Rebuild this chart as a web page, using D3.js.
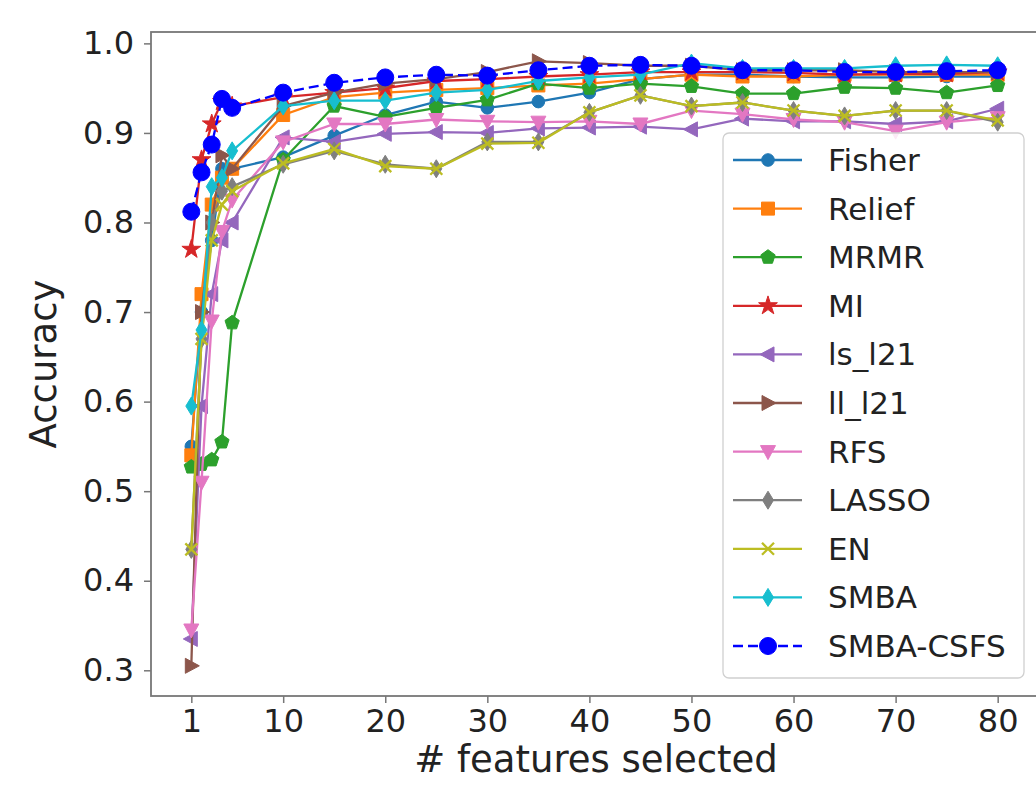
<!DOCTYPE html>
<html><head><meta charset="utf-8">
<script src="https://cdn.jsdelivr.net/npm/d3@7"></script>
<style>body{margin:0;background:#fff}svg{display:block}text{font-family:"DejaVu Sans",sans-serif;fill:#222}</style>
</head><body><svg id="c" width="1036" height="793"></svg>
<script>
const xs = [1,2,3,4,5,10,15,20,25,30,35,40,45,50,55,60,65,70,75,80];
const fisher = [0.55,0.70,0.78,0.86,0.86,0.873,0.897,0.92,0.935,0.928,0.935,0.945,0.96,0.965,0.965,0.963,0.962,0.962,0.963,0.963];
const relief = [0.54,0.72,0.82,0.85,0.86,0.92,0.94,0.945,0.948,0.95,0.953,0.955,0.96,0.965,0.963,0.963,0.965,0.965,0.965,0.965];
const mrmr = [0.527,0.53,0.535,0.555,0.688,0.87,0.93,0.918,0.928,0.937,0.955,0.95,0.955,0.952,0.944,0.944,0.951,0.95,0.945,0.953];
const mi = [0.77,0.87,0.91,0.935,0.93,0.94,0.945,0.95,0.958,0.96,0.963,0.965,0.968,0.968,0.968,0.967,0.965,0.966,0.966,0.968];
const lsl21 = [0.335,0.595,0.72,0.78,0.80,0.895,0.89,0.899,0.901,0.90,0.905,0.906,0.907,0.904,0.916,0.913,0.913,0.91,0.913,0.927];
const lll21 = [0.305,0.70,0.80,0.875,0.86,0.93,0.945,0.955,0.96,0.968,0.98,0.978,0.975,0.975,0.97,0.97,0.97,0.968,0.968,0.968];
const rfs = [0.345,0.51,0.69,0.79,0.825,0.89,0.91,0.91,0.915,0.913,0.912,0.913,0.91,0.925,0.921,0.915,0.912,0.902,0.912,0.917];
const lasso = [0.435,0.67,0.80,0.835,0.84,0.865,0.88,0.865,0.86,0.89,0.89,0.923,0.942,0.93,0.934,0.925,0.919,0.925,0.925,0.912];
const en = [0.435,0.67,0.78,0.82,0.835,0.866,0.882,0.863,0.86,0.888,0.889,0.923,0.942,0.93,0.934,0.925,0.919,0.925,0.925,0.914];
const smba = [0.595,0.68,0.84,0.85,0.88,0.93,0.936,0.936,0.945,0.948,0.958,0.962,0.965,0.978,0.972,0.972,0.972,0.975,0.976,0.975];
const csfs = [0.812,0.856,0.887,0.938,0.928,0.945,0.956,0.962,0.965,0.964,0.970,0.975,0.976,0.975,0.970,0.970,0.968,0.968,0.969,0.970];

const seriesNames = ["Fisher","Relief","MRMR","MI","ls_l21","ll_l21","RFS","LASSO","EN","SMBA","SMBA-CSFS"];
const seriesValues = [fisher,relief,mrmr,mi,lsl21,lll21,rfs,lasso,en,smba,csfs];
const colors = ["#1f77b4","#ff7f0e","#2ca02c","#d62728","#9467bd","#8c564b","#e377c2","#7f7f7f","#bcbd22","#17becf","#0000ff"];
const markers = ["circle","square","pentagon","star","left","right","down","thindiamond","x","thindiamond","bigcircle"];
const xTicks = [1,10,20,30,40,50,60,70,80];
const yTicks = [0.3,0.4,0.5,0.6,0.7,0.8,0.9,1.0];

const svg = d3.select("#c");
const L=151,T=32,R=1038,B=696;
const x = d3.scaleLinear().domain([-2.95,83.95]).range([L,R]);
const y = d3.scaleLinear().domain([0.2713,1.0127]).range([B,T]);

function markerPath(type){
  const s = 6.5;
  switch(type){
    case "circle": return d3.symbol(d3.symbolCircle, Math.PI*6.3*6.3)();
    case "bigcircle": return d3.symbol(d3.symbolCircle, Math.PI*8.5*8.5)();
    case "square": return `M${-s},${-s}H${s}V${s}H${-s}Z`;
    case "pentagon": { const r=7.5; let p=[]; for(let i=0;i<5;i++){const a=-Math.PI/2+i*2*Math.PI/5; p.push([r*Math.cos(a),r*Math.sin(a)]);} return "M"+p.map(d=>d.join(",")).join("L")+"Z"; }
    case "star": return d3.symbol(d3.symbolStar, 110)();
    case "left": return `M${-8},0L${6},${-7.5}L${6},${7.5}Z`;
    case "right": return `M${8},0L${-6},${-7.5}L${-6},${7.5}Z`;
    case "down": return `M0,${8}L${-7.5},${-6}L${7.5},${-6}Z`;
    case "thindiamond": return `M0,${-9}L${5.5},0L0,${9}L${-5.5},0Z`;
    case "x": return `M-6,-6L6,6M-6,6L6,-6`;
  }
}

svg.append("defs").append("clipPath").attr("id","clip").append("rect").attr("x",L).attr("y",T).attr("width",R-L).attr("height",B-T);

const xAxis = d3.axisBottom(x).tickValues(xTicks).tickSize(7).tickPadding(6).tickFormat(d3.format("d"));
const yAxis = d3.axisLeft(y).tickValues(yTicks).tickSize(7).tickPadding(10).tickFormat(d3.format(".1f"));
const gx = svg.append("g").attr("transform",`translate(0,${B})`).call(xAxis);
const gy = svg.append("g").attr("transform",`translate(${L},0)`).call(yAxis);
[gx,gy].forEach(g=>{
  g.select(".domain").remove();
  g.selectAll(".tick line").attr("stroke","#777").attr("stroke-width",1.5);
  g.selectAll(".tick text").attr("font-size",32).attr("fill","#222").style("font-family","DejaVu Sans");
});
svg.append("rect").attr("x",L).attr("y",T).attr("width",R-L).attr("height",B-T).attr("fill","none").attr("stroke","#777").attr("stroke-width",1.8);

const plot = svg.append("g").attr("clip-path","url(#clip)");
const line = d3.line().x((d,i)=>x(xs[i])).y(d=>y(d));
seriesValues.forEach((vals,k)=>{
  const g = plot.append("g");
  g.append("path").attr("d",line(vals)).attr("fill","none").attr("stroke",colors[k]).attr("stroke-width",2.3)
    .attr("stroke-dasharray", k===10 ? "10,5" : null);
  const mp = markerPath(markers[k]);
  g.selectAll("path.m").data(vals).join("path").attr("class","m")
    .attr("transform",(d,i)=>`translate(${x(xs[i])},${y(d)})`)
    .attr("d",mp)
    .attr("fill",markers[k]==="x"?"none":colors[k])
    .attr("stroke",colors[k]).attr("stroke-width",markers[k]==="x"?2.3:1);
});

svg.append("text").attr("x",596).attr("y",772).attr("text-anchor","middle").attr("font-size",37).text("# features selected");
svg.append("text").attr("transform",`translate(56,${(T+B)/2}) rotate(-90)`).attr("text-anchor","middle").attr("font-size",37).text("Accuracy");

const lg = svg.append("g");
lg.append("rect").attr("x",723).attr("y",133).attr("width",301).attr("height",545).attr("rx",6)
  .attr("fill","#fff").attr("fill-opacity",0.85).attr("stroke","#d0d0d0").attr("stroke-width",1.3);
seriesNames.forEach((name,k)=>{
  const cy = 160 + k*48.6;
  lg.append("line").attr("x1",733).attr("x2",802).attr("y1",cy).attr("y2",cy).attr("stroke",colors[k]).attr("stroke-width",2.3)
    .attr("stroke-dasharray", k===10 ? "10,5" : null);
  lg.append("path").attr("transform",`translate(768,${cy})`).attr("d",markerPath(markers[k]))
    .attr("fill",markers[k]==="x"?"none":colors[k]).attr("stroke",colors[k]).attr("stroke-width",markers[k]==="x"?2.3:1);
  lg.append("text").attr("x",828).attr("y",cy+11).attr("font-size",31).text(name);
});
</script></body></html>
